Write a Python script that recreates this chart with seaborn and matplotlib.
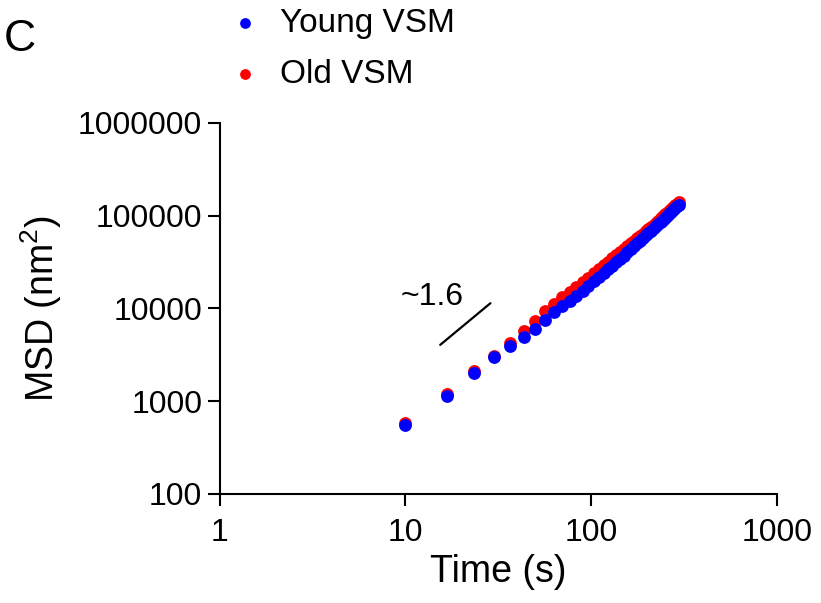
import pandas as pd
import matplotlib.pyplot as plt
import matplotlib.ticker as mticker
import seaborn as sns

# Time points (s)
time_s = [10, 16.67, 23.33, 30, 36.67, 43.33, 50, 56.67, 63.33, 70, 76.67, 83.33,
          90, 96.67, 103.33, 110, 116.67, 123.33, 130, 136.67, 143.33, 150, 156.67,
          163.33, 170, 176.67, 183.33, 190, 196.67, 203.33, 210, 216.67, 223.33, 230,
          236.67, 243.33, 250, 256.67, 263.33, 270, 276.67, 283.33, 290, 296.67]

# MSD (nm^2)
msd_young = [555, 1150, 2040, 2970, 3930, 4960, 6080, 7450, 9050, 10600, 12100, 13700,
             15500, 17570, 19650, 21850, 24130, 26510, 28960, 31530, 34160, 37160, 40290,
             43510, 46840, 50290, 53860, 57550, 61350, 65240, 69250, 73390, 77590, 81940,
             86380, 90950, 95610, 100400, 105300, 110300, 115300, 120500, 125800, 131300]
msd_old = [588, 1182, 2097, 3110, 4288, 5759, 7393, 9275, 11267, 13197, 15065, 16933,
           19065, 21523, 23953, 26504, 29149, 31865, 34665, 37552, 40514, 43663, 46898,
           50167, 53538, 56928, 60431, 64111, 67914, 71699, 75760, 79922, 84108, 88577,
           93377, 98135, 103163, 108231, 113513, 118793, 124178, 129658, 135361, 141279]

# slope guide line
slope_t = [15.4, 28.7]
slope_msd = [4050, 11400]

x_ticks = [1, 10, 100, 1000]
y_ticks = [100, 1000, 10000, 100000, 1000000]

df_young = pd.DataFrame({'Time': time_s, 'MSD': msd_young})
df_old = pd.DataFrame({'Time': time_s, 'MSD': msd_old})

sns.set_style('ticks')
plt.rcParams['font.family'] = ['Liberation Sans', 'DejaVu Sans']
plt.rcParams['mathtext.default'] = 'regular'
plt.rcParams['text.color'] = 'black'
plt.rcParams['axes.labelcolor'] = 'black'

fig = plt.figure(figsize=(8.21, 6.03), dpi=100)
ax = fig.add_axes([0.2674, 0.1808, 0.6790, 0.6153])

sns.scatterplot(data=df_old, x='Time', y='MSD', color='#ff0000', s=85, linewidth=0,
                label='Old VSM', legend=False, ax=ax, zorder=3)
sns.scatterplot(data=df_young, x='Time', y='MSD', color='#0000ff', s=85, linewidth=0,
                label='Young VSM', legend=False, ax=ax, zorder=4)

ax.plot(slope_t, slope_msd, color='black', lw=1.6)
ax.text(9.38, 10900, '~1.6', fontsize=23, ha='left', va='baseline')

ax.set_xscale('log')
ax.set_yscale('log')
ax.set_xlim(1, 1000)
ax.set_ylim(100, 1000000)
ax.xaxis.set_major_locator(mticker.FixedLocator(x_ticks))
ax.yaxis.set_major_locator(mticker.FixedLocator(y_ticks))
ax.xaxis.set_minor_locator(mticker.NullLocator())
ax.yaxis.set_minor_locator(mticker.NullLocator())
ax.set_xticklabels([str(v) for v in x_ticks])
ax.set_yticklabels([str(v) for v in y_ticks])

for side in ['top', 'right']:
    ax.spines[side].set_visible(False)
for side in ['left', 'bottom']:
    ax.spines[side].set_linewidth(1.5)
    ax.spines[side].set_color('black')
ax.tick_params(axis='both', which='major', length=8.5, width=1.5, color='black',
               labelsize=23, labelcolor='black')
ax.tick_params(axis='x', pad=9)
ax.tick_params(axis='y', pad=4)

ax.set_xlabel('Time (s)', fontsize=27, labelpad=4)
ax.set_ylabel('MSD (nm$^2$)', fontsize=27, labelpad=10)

handles, labels = ax.get_legend_handles_labels()
order = [labels.index('Young VSM'), labels.index('Old VSM')]
fig.legend([handles[i] for i in order], [labels[i] for i in order],
           loc='upper left', bbox_to_anchor=(0.278, 0.987), frameon=False,
           fontsize=24, markerscale=0.84, handlelength=1.0, handletextpad=0.55,
           labelspacing=0.6, borderpad=0, borderaxespad=0)

fig.text(0.005, 0.915, 'C', fontsize=32, ha='left', va='baseline')

fig.savefig('out.png', dpi=100)
